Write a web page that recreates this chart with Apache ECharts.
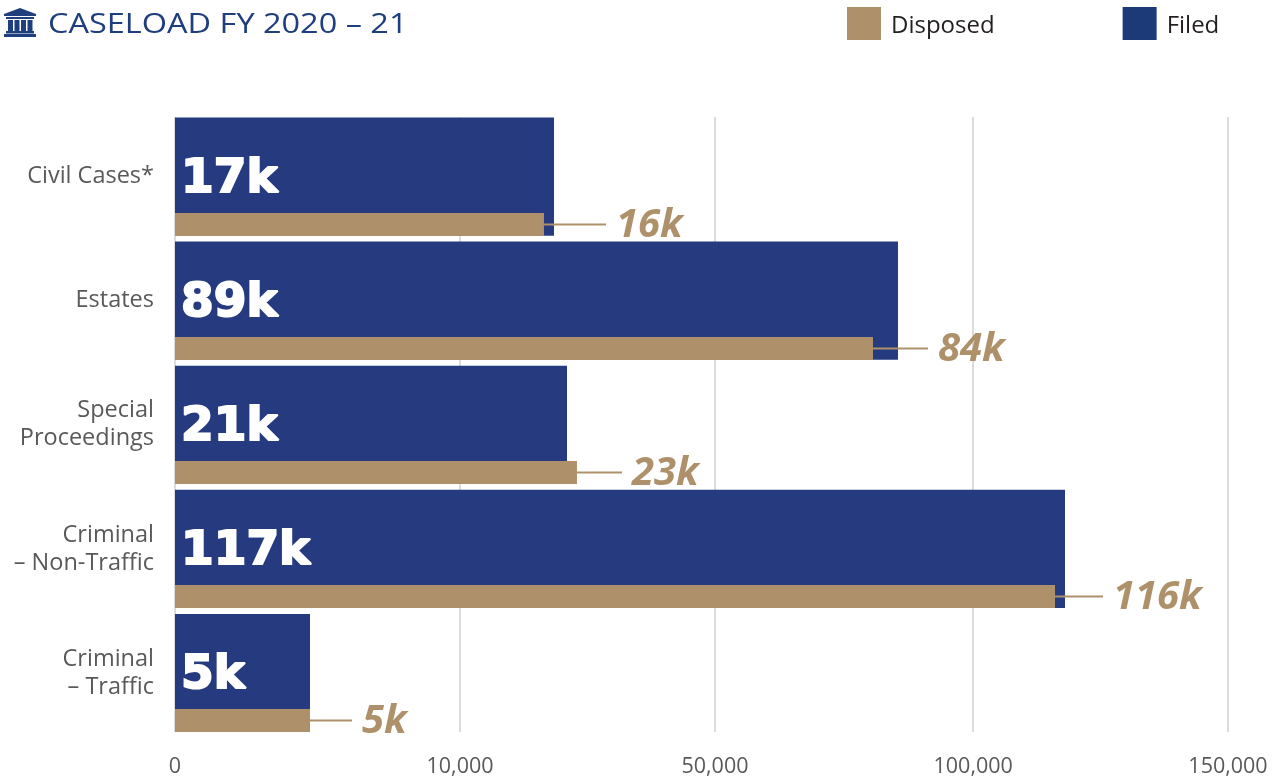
<!DOCTYPE html>
<html>
<head>
<meta charset="utf-8">
<style>html,body{margin:0;padding:0;background:#fff}#c{width:1277px;height:779px}</style>
<script src="https://cdn.jsdelivr.net/npm/echarts@6/dist/echarts.min.js"></script>
</head>
<body>
<div id="c"></div>
<script>
// The printed axis is not proportional to its labels, so bar lengths are read in plotted axis units.
const categories = ['Civil Cases*', 'Estates', 'Special\nProceedings', 'Criminal\n– Non-Traffic', 'Criminal\n– Traffic'];
const filedLengths = [53990, 102990, 55840, 126780, 19230];
const disposedLengths = [52560, 99430, 57260, 125360, 19230];
const filedLabels = ['17k', '89k', '21k', '117k', '5k'];
const disposedLabels = ['16k', '84k', '23k', '116k', '5k'];
const tickPlaces = [0, 40600, 76920, 113700, 150000];
const tickLabels = ['0', '10,000', '50,000', '100,000', '150,000'];
const leaderLengths = [62, 55, 45, 48, 42];

const FILED = '#263a80', TAN = '#ae916a', NAVY = '#1f3e7e', SANS = '"Open Sans","Noto Sans",sans-serif';
const X = {left: 175, width: 1053};
const chart = echarts.init(document.getElementById('c'), null, {renderer: 'canvas'});
const hiddenX = i => ({type: 'value', gridIndex: i, min: 0, max: 150000, show: false});
const band = (i, extra) => Object.assign({
  type: 'category', gridIndex: i, data: categories, inverse: true,
  axisLine: {show: false}, axisTick: {show: false}, splitLine: {show: false},
  axisLabel: {show: false}
}, extra);
const iconRect = (x, y, width, height) => ({type: 'rect', shape: {x, y, width, height}, style: {fill: NAVY}});
chart.setOption({
  animation: false,
  backgroundColor: '#fff',
  legend: {
    left: 847, top: 7, padding: 0, itemWidth: 34, itemHeight: 33, itemGap: 128,
    icon: 'rect', selectedMode: false,
    formatter: '{t|{name}}',
    textStyle: {
      color: '#231f20', fontFamily: SANS, fontSize: 24, padding: [0, 0, 0, 5],
      rich: {t: {color: '#231f20', fontFamily: SANS, fontSize: 24, padding: [6, 0, 0, 0]}}
    },
    data: [{name: 'Disposed'}, {name: 'Filed', itemStyle: {color: '#1c3a78'}}]
  },
  graphic: [
    {type: 'text', x: 48, y: 11, scaleX: 1.16, style: {text: 'CASELOAD FY 2020 – 21', fill: NAVY, font: '28px ' + SANS}},
    {type: 'group', x: 4, y: 8, children: [
      {type: 'polygon', shape: {points: [[16, 0], [32, 6], [32, 8], [0, 8], [0, 6]]}, style: {fill: NAVY}},
      iconRect(2, 9, 28, 2), iconRect(4, 12, 5, 11), iconRect(10.5, 12, 5, 11),
      iconRect(17, 12, 5, 11), iconRect(23.5, 12, 5, 11), iconRect(2, 23, 28, 2.5), iconRect(0, 26, 32, 3)
    ]}
  ],
  grid: [
    {left: X.left, width: X.width, top: 117, height: 615},
    {left: X.left, width: X.width, top: 114.55, height: 620.5},
    {left: X.left, width: X.width, top: 224.5, height: 496}
  ],
  xAxis: [
    {
      type: 'value', gridIndex: 0, min: 0, max: 150000,
      axisLine: {show: false},
      axisTick: {show: false, customValues: tickPlaces},
      splitLine: {show: true, lineStyle: {color: '#dcdcdc', width: 2}},
      axisLabel: {
        customValues: tickPlaces, margin: 24, color: '#58595b', fontFamily: SANS, fontSize: 21.5,
        formatter: v => tickLabels[tickPlaces.indexOf(v)]
      }
    },
    hiddenX(1), hiddenX(2)
  ],
  yAxis: [
    band(0),
    band(1, {axisLabel: {show: true, margin: 21, color: '#58595b', fontFamily: SANS, fontSize: 23.5, lineHeight: 28, align: 'right'}}),
    band(2, {boundaryGap: false})
  ],
  series: [
    {
      name: 'Filed', type: 'bar', xAxisIndex: 1, yAxisIndex: 1, barWidth: 118.2, z: 2,
      itemStyle: {color: FILED}, data: filedLengths,
      label: {
        show: true, position: 'insideLeft', distance: 8, offset: [-2, 3], color: '#fff',
        fontFamily: '"DejaVu Sans",' + SANS, fontWeight: 700, fontSize: 47,
        textBorderColor: '#fff', textBorderWidth: 2,
        formatter: p => filedLabels[p.dataIndex]
      }
    },
    {
      name: 'Disposed', type: 'bar', xAxisIndex: 2, yAxisIndex: 2, barWidth: 23, z: 3, clip: false,
      itemStyle: {color: TAN}, data: disposedLengths
    },
    {
      name: 'Disposed labels', type: 'custom', xAxisIndex: 2, yAxisIndex: 2, z: 4, silent: true, clip: false,
      data: disposedLengths.map((v, i) => [v, i]),
      encode: {x: 0, y: 1},
      renderItem: (params, api) => {
        const p = api.coord([api.value(0), api.value(1)]);
        const len = leaderLengths[params.dataIndex];
        return {
          type: 'group',
          children: [
            {type: 'line', shape: {x1: p[0], y1: p[1], x2: p[0] + len, y2: p[1]}, style: {stroke: TAN, lineWidth: 2}},
            {type: 'text', style: {
              x: p[0] + len + 10, y: p[1] + 1, text: disposedLabels[params.dataIndex],
              fill: TAN, font: 'italic 700 40px ' + SANS, textAlign: 'left', textVerticalAlign: 'middle'
            }}
          ]
        };
      }
    }
  ]
});
</script>
</body>
</html>
